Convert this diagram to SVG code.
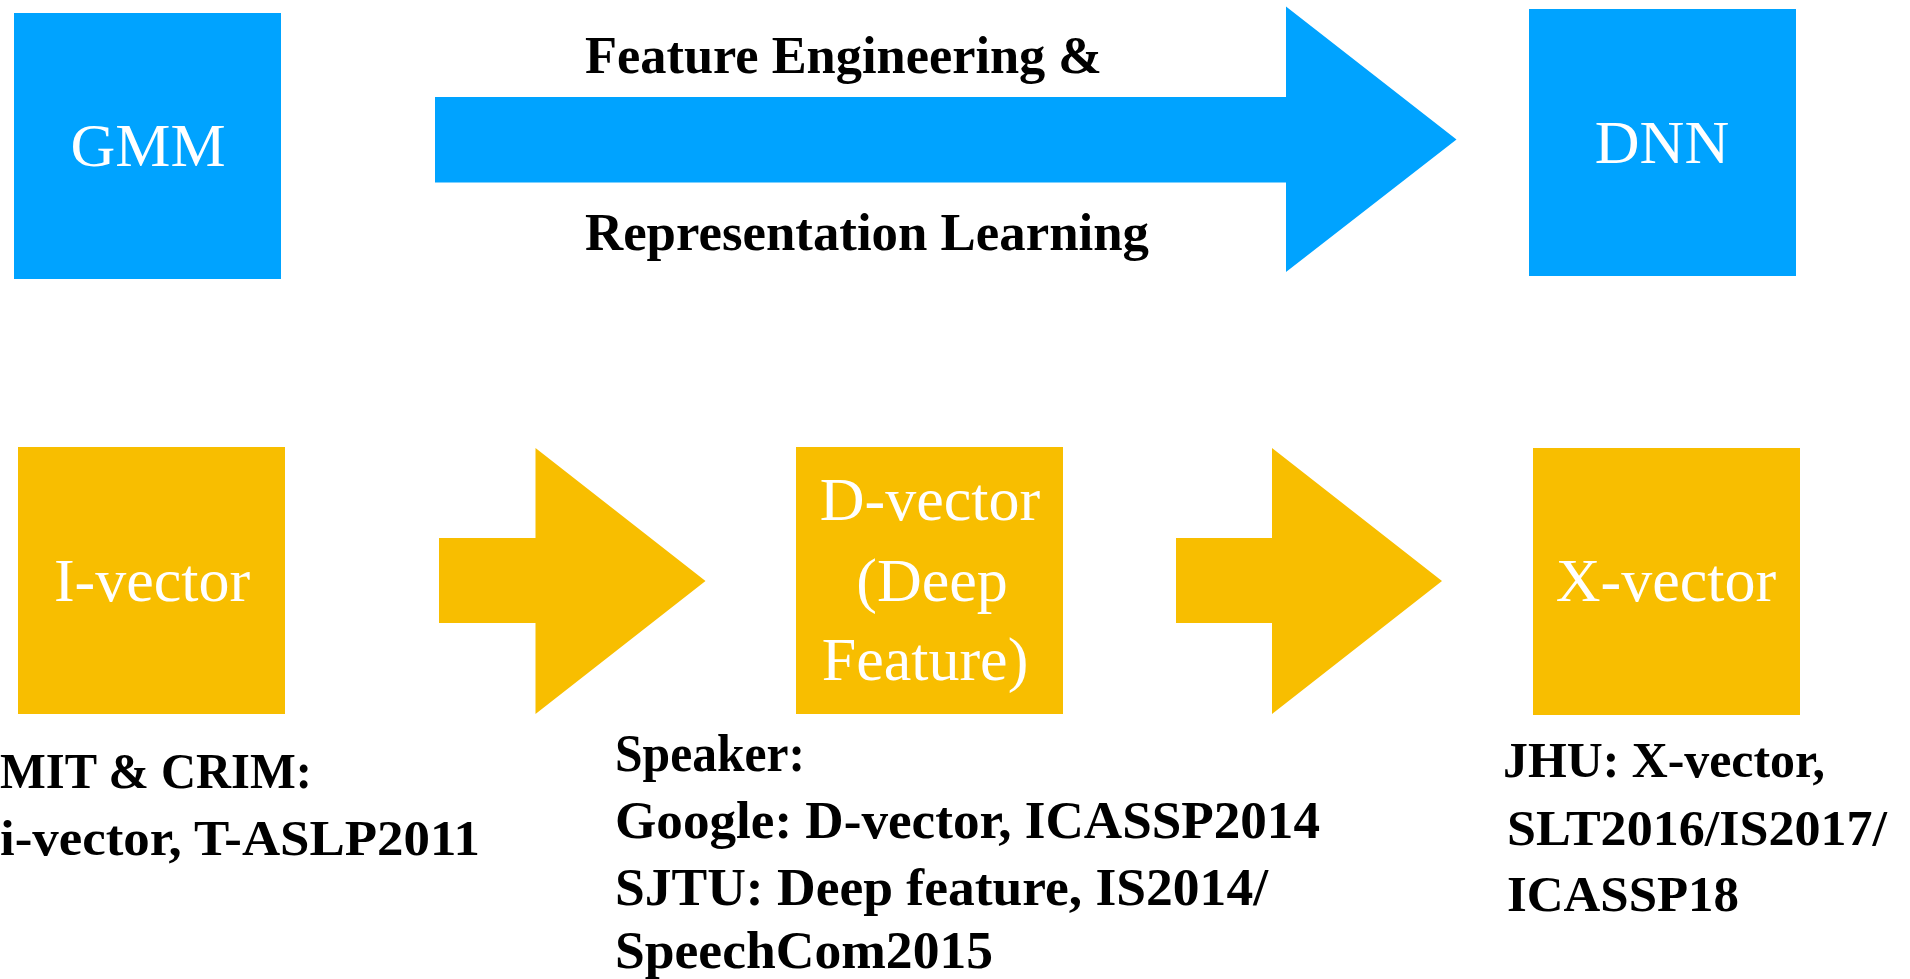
<svg xmlns="http://www.w3.org/2000/svg" width="1910" height="979" viewBox="0 0 1910 979">
<style>
.blue{fill:#00A3FF}
.yel{fill:#F8BE00}
.lbl{font-family:"Liberation Serif","Times New Roman",serif;font-size:62px;fill:#FFFFFF;text-anchor:middle}
.cap{font-family:"Liberation Serif","Times New Roman",serif;font-weight:bold;fill:#000000}
</style>
<rect width="1910" height="979" fill="#FFFFFF"/>
<g id="connectors">
<polygon class="blue" points="435,97 1286,97 1286,6.5 1456.5,139.5 1286,272 1286,182.5 435,182.5"/>
<polygon class="yel" points="439,538 535.5,538 535.5,448 705.5,581 535.5,714 535.5,623 439,623"/>
<polygon class="yel" points="1176,538 1272,538 1272,448 1442,581 1272,714 1272,623 1176,623"/>
</g>
<g id="arrow-label">
<text class="cap" x="585" y="73" font-size="52" textLength="517" lengthAdjust="spacingAndGlyphs">Feature Engineering &amp;</text>
<text class="cap" x="585" y="250" font-size="52" textLength="564" lengthAdjust="spacingAndGlyphs">Representation Learning</text>
</g>
<g id="gmm">
<rect class="blue" x="14" y="13" width="267" height="266"/>
<text class="lbl" x="148" y="166">GMM</text>
</g>
<g id="dnn">
<rect class="blue" x="1529" y="9" width="267" height="267"/>
<text class="lbl" x="1662" y="163">DNN</text>
</g>
<g id="ivector">
<rect class="yel" x="18" y="447" width="267" height="267"/>
<text class="lbl" x="152" y="601">I-vector</text>
</g>
<g id="dvector">
<rect class="yel" x="796" y="447" width="267" height="267"/>
<text class="lbl" x="930" y="520">D-vector</text>
<text class="lbl" x="932" y="601">(Deep</text>
<text class="lbl" x="925" y="680">Feature)</text>
</g>
<g id="xvector">
<rect class="yel" x="1533" y="448" width="267" height="267"/>
<text class="lbl" x="1666" y="601">X-vector</text>
</g>
<g id="ivector-note">
<text class="cap" x="0" y="788" font-size="50" textLength="312" lengthAdjust="spacingAndGlyphs">MIT &amp; CRIM:</text>
<text class="cap" x="0" y="855" font-size="50" textLength="480" lengthAdjust="spacingAndGlyphs">i-vector, T-ASLP2011</text>
</g>
<g id="dvector-note">
<text class="cap" x="615" y="771" font-size="52" textLength="190" lengthAdjust="spacingAndGlyphs">Speaker:</text>
<text class="cap" x="615" y="838" font-size="52" textLength="705" lengthAdjust="spacingAndGlyphs">Google: D-vector, ICASSP2014</text>
<text class="cap" x="615" y="905" font-size="52" textLength="653" lengthAdjust="spacingAndGlyphs">SJTU: Deep feature, IS2014/</text>
<text class="cap" x="615" y="968" font-size="52" textLength="378" lengthAdjust="spacingAndGlyphs">SpeechCom2015</text>
</g>
<g id="xvector-note">
<text class="cap" x="1503" y="777" font-size="51" textLength="322" lengthAdjust="spacingAndGlyphs">JHU: X-vector,</text>
<text class="cap" x="1507" y="845" font-size="51" textLength="380" lengthAdjust="spacingAndGlyphs">SLT2016/IS2017/</text>
<text class="cap" x="1507" y="911" font-size="51" textLength="232" lengthAdjust="spacingAndGlyphs">ICASSP18</text>
</g>
</svg>
